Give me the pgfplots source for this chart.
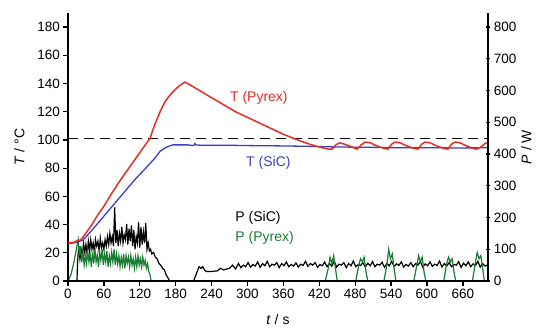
\documentclass[border=0pt]{standalone}
\usepackage{pgfplots}
\pgfplotsset{compat=1.18}
\usepackage{fontspec}
\setmainfont{Liberation Sans}
\definecolor{tred}{RGB}{232,45,35}
\definecolor{tblue}{RGB}{55,65,200}
\definecolor{pgreen}{RGB}{25,125,50}
\begin{document}
\begin{tikzpicture}
\useasboundingbox (0,0) rectangle (543pt,332pt);
\pgfplotsset{
  common/.style={
    at={(68pt,51pt)}, anchor=south west,
    scale only axis, width=420pt, height=268pt,
    xmin=0, xmax=702,
    /pgf/number format/assume math mode=true,
    tick label style={font=\fontsize{13.5}{15}\selectfont},
    label style={font=\fontsize{14}{16}\selectfont},
    major tick length=4.5pt,
    every tick/.style={black, line width=1.3pt},
    axis line style={line width=1.6pt},
  }
}
% right axis: power
\begin{axis}[common,
  axis x line=none,
  axis y line*=right,
  ymin=0, ymax=844.4,
  ytick={0,100,...,800},
  tick align=center,
  ylabel={\textit{P} / W},
  ylabel style={yshift=2pt},
]
\addplot[black, line width=1.2pt] coordinates {
(15,0) (16,60) (18,110) (20,70) (22,100) (24,80) (26,120) (28,90) (30,115) (32,85) (34,125) (36,95) (38,130) (40,100) (42,120) (44,90) (46,130) (48,110) (50,125) (52,95) (54,135) (56,105) (58,120) (60,100) (62,130) (64,110) (66,140) (68,115) (70,150) (72,120) (74,140) (76,110) (78,232) (80,120) (82,160) (84,110) (86,150) (88,125) (90,170) (92,120) (94,145) (96,130) (98,180) (100,115) (102,165) (104,125) (106,175) (108,110) (110,160) (112,100) (114,140) (116,120) (118,185) (120,105) (122,170) (124,115) (126,155) (128,120) (130,182) (132,100) (134,120) (136,95) (138,100) (140,85) (143,90) (146,75) (149,70) (152,55) (155,50) (158,40) (161,35) (164,20) (167,10) (170,0) (210,0) (213,15) (216,30) (219,45) (222,40) (225,45) (228,35) (231,30) (240,30) (250,32) (255,40) (260,35) (270,40) (275,50) (280,38)
(285,55) (289,42) (293,50) (297,45) (301,58) (305,44) (309,52) (313,47) (317,60) (321,43) (325,55) (329,48) (333,62) (337,45) (341,53) (345,50) (349,58) (353,42) (357,55) (361,48) (365,60) (369,45) (373,52) (377,47) (381,57) (385,44) (389,53) (393,49) (397,62) (401,46) (405,55) (409,50) (413,58) (417,43) (421,52) (425,48) (429,60) (433,45) (437,55) (441,47) (445,62) (449,44) (453,53) (457,50) (461,58) (465,42) (469,55) (473,48) (477,63) (481,45) (485,52) (489,49) (493,58) (497,44) (501,56) (505,48) (509,61) (513,45) (517,53) (521,50) (525,59) (529,43) (533,55) (537,48) (541,62) (545,46) (549,54) (553,49) (557,60) (561,44) (565,52) (569,47) (573,58) (577,45) (581,55) (585,50) (589,62) (593,43) (597,54) (601,48) (605,60) (609,46) (613,53) (617,49) (621,63) (625,44) (629,55) (633,47) (637,58) (641,45) (645,52) (649,50) (653,61) (657,43) (661,56) (665,48) (669,60) (673,45) (677,54) (681,49) (685,62) (689,44) (693,55) (697,47) (700,50)
};
\addplot[pgreen, line width=1.2pt] coordinates {
(0,0) (5,20) (10,60) (14,100) (17,130) (19,80) (21,110) (23,60) (25,90) (27,50) (29,80) (31,55) (33,95) (35,60) (37,85) (39,45) (41,90) (43,55) (45,100) (47,60) (49,80) (51,45) (53,90) (55,65) (57,100) (59,50) (61,85) (63,60) (65,95) (67,45) (69,80) (71,55) (73,90) (75,60) (77,100) (79,50) (81,85) (83,55) (85,80) (87,45) (89,75) (91,50) (93,85) (95,40) (97,80) (99,55) (101,75) (103,45) (105,80) (107,50) (109,70) (111,40) (113,75) (115,45) (117,80) (119,50) (121,70) (123,45) (125,75) (127,50) (129,65) (131,40) (133,55) (135,30) (137,20) (139,0)
(430,0) (435,40) (438,75) (441,55) (444,80) (447,40) (450,0)
(481,0) (486,50) (489,70) (492,60) (495,75) (498,30) (501,0)
(528,0) (533,50) (536,100) (539,70) (542,85) (545,40) (548,0)
(578,0) (583,50) (586,80) (589,60) (592,75) (595,30) (598,0)
(628,0) (633,55) (636,75) (639,60) (642,70) (645,30) (648,0)
(676,0) (681,60) (684,90) (687,70) (690,80) (693,40) (696,0) (700,0)
};
\end{axis}
% left axis: temperature
\begin{axis}[common,
  axis x line*=bottom,
  axis y line*=left,
  ymin=0, ymax=190,
  ytick={0,20,...,180},
  xtick={0,60,...,660},
  tick align=outside,
  ylabel={\textit{T} / °C},
  ylabel style={yshift=6pt},
  xlabel={\textit{t} / s},
  xlabel style={yshift=-9pt},
]
\addplot[black, dashed, line width=1.6pt, dash pattern=on 10pt off 6pt] coordinates {(0,101) (702,101)};
\addplot[tblue, line width=1.3pt] coordinates {
(0,26.5) (10,27) (15,27.5) (25,29) (40,36) (60,46) (82,57) (100,66) (112,72) (130,80) (145,87) (154,92) (165,95) (175,96.5) (185,96.5) (200,96.5) (210,96) (212,97.5) (214,96.5) (220,96.3) (260,96.3) (300,96) (350,95.8) (400,95.5) (450,95) (500,94.8) (550,94.5) (600,94.5) (650,94.3) (700,94.5)
};
\addplot[tred, line width=1.5pt] coordinates {
(0,27) (5,27) (10,27.5) (15,28.5) (20,29) (23,30) (30,34) (40,40) (50,47) (60,53) (70,60) (82,68) (90,73) (100,79) (110,85) (120,91) (130,97) (137,101) (145,111) (155,121) (162,127) (167,130) (175,134) (185,138) (195,141) (200,140) (220,135) (240,130) (260,125) (280,120) (300,116) (320,112) (340,108) (360,104) (384,100) (400,97.5) (420,95) (435,93.5)
(441,93.5) (448,96.5) (454,98) (462,97) (472,95.5) (483,93.5) (490,96.5) (497,98.5) (505,98) (515,96) (528,94) (535,93.5) (541,97) (547,98.5) (555,98) (565,96) (578,94) (585,93.5) (591,97) (597,98.5) (605,98) (615,96) (628,94) (635,93.5) (641,97) (647,98.5) (655,98) (665,96) (677,94) (683,93.5) (690,95) (697,97.5) (700,98)
};
\node[anchor=west, text=tred, font=\fontsize{14}{16}\selectfont] at (axis cs:265,130) {T (Pyrex)};
\node[anchor=west, text=tblue, font=\fontsize{14}{16}\selectfont] at (axis cs:292,84) {T (SiC)};
\node[anchor=west, text=black, font=\fontsize{14}{16}\selectfont] at (axis cs:274,45) {P (SiC)};
\node[anchor=west, text=pgreen, font=\fontsize{14}{16}\selectfont] at (axis cs:274,30.5) {P (Pyrex)};
\end{axis}
\end{tikzpicture}
\end{document}
